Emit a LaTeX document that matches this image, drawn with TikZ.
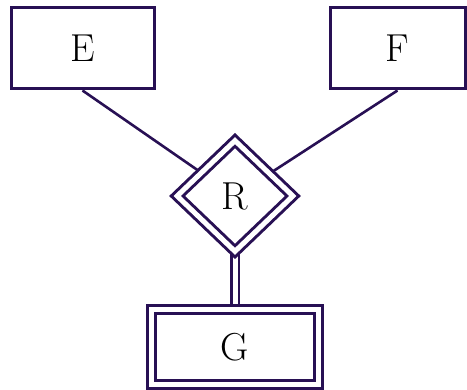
\documentclass[tikz,border=0pt]{standalone}
\usetikzlibrary{shapes.geometric,backgrounds}

\definecolor{erline}{RGB}{40,16,84}

\tikzset{
  entity/.style={draw=erline,fill=white,line width=3pt,rectangle,
    minimum height=81pt,inner sep=0pt},
  weakentity/.style={entity,double,double distance=5pt,minimum height=74.5pt},
  idrel/.style={draw=erline,fill=white,line width=3pt,diamond,double,
    double distance=5pt,minimum width=117pt,minimum height=112pt,inner sep=0pt},
  link/.style={draw=erline,line width=2.6pt},
  totallink/.style={link,line width=2.8pt,double,double distance=5pt}
}

\begin{document}
\begin{tikzpicture}[x=1pt,y=-1pt,font=\fontsize{39}{42}\selectfont]
    \useasboundingbox (0,0) rectangle (467,390);

    \node[entity,minimum width=143pt] (E) at (82.5,48.5) {E};
    \node[entity,minimum width=135pt] (F) at (397.5,48.5) {F};
    \node[idrel] (R) at (235,196) {R};
    \node[weakentity,minimum width=167.5pt] (G) at (235,347) {G};

    \begin{scope}[on background layer]
      \draw[link] (E.south) -- (R.center);
      \draw[link] (F.south) -- (R.center);
      \draw[totallink] (R.center) -- (G.center);
    \end{scope}
  \end{tikzpicture}
\end{document}
